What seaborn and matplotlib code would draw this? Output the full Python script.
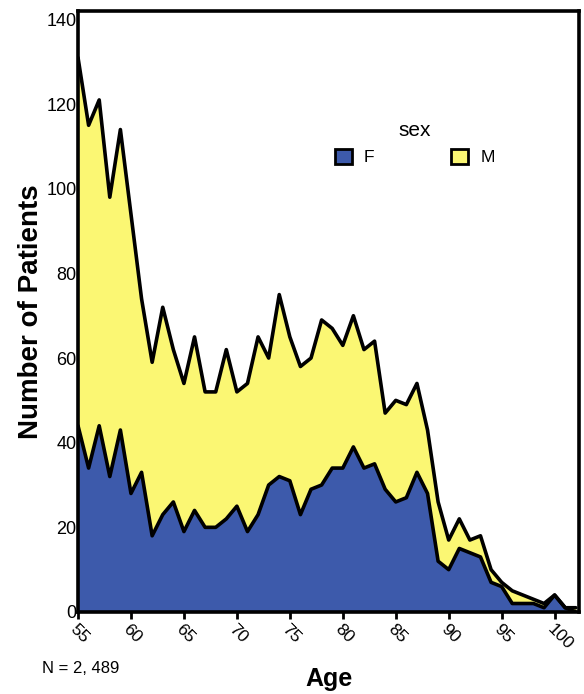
import numpy as np
import pandas as pd
import matplotlib
matplotlib.use('Agg')
import matplotlib.pyplot as plt
import seaborn as sns
from matplotlib.patches import Patch

# Datos
ages = list(range(55, 103))
female = [44, 34, 44, 32, 43, 28, 33, 18, 23, 26,
          19, 24, 20, 20, 22, 25, 19, 23, 30, 32,
          31, 23, 29, 30, 34, 34, 39, 34, 35, 29,
          26, 27, 33, 28, 12, 10, 15, 14, 13, 7,
          6, 2, 2, 2, 1, 4, 1, 0]
total = [131, 115, 121, 98, 114, 94, 74, 59, 72, 62,
         54, 65, 52, 52, 62, 52, 54, 65, 60, 75,
         65, 58, 60, 69, 67, 63, 70, 62, 64, 47,
         50, 49, 54, 43, 26, 17, 22, 17, 18, 10,
         7, 5, 4, 3, 2, 4, 1, 1]
male = [t - f for t, f in zip(total, female)]
sexes = ['F', 'M']
colors = {'F': '#3d5aab', 'M': '#fbf773'}

data = pd.DataFrame({'age': ages, 'F': female, 'M': male})
data['top_F'] = data['F']
data['top_M'] = data['F'] + data['M']

sns.set_style('white')
plt.rcParams['font.family'] = ['Liberation Sans', 'DejaVu Sans']
plt.rcParams['text.color'] = 'black'
plt.rcParams['axes.labelcolor'] = 'black'
plt.rcParams['xtick.color'] = 'black'
plt.rcParams['ytick.color'] = 'black'

fig = plt.figure(figsize=(5.84, 6.94), dpi=100)
ax = fig.add_axes([0.1336, 0.1182, 0.8578, 0.8659])

ax.fill_between(data['age'], 0, data['top_F'], color=colors['F'], linewidth=0)
ax.fill_between(data['age'], data['top_F'], data['top_M'], color=colors['M'], linewidth=0)
sns.lineplot(x='age', y='top_F', data=data, color='black', linewidth=2.6, ax=ax)
sns.lineplot(x='age', y='top_M', data=data, color='black', linewidth=2.6, ax=ax)

ax.set_xlim(55, 102.3)
ax.set_ylim(0, 142)
ax.set_yticks(range(0, 141, 20))
ax.set_xticks(range(55, 101, 5))
ax.set_xticklabels([str(a) for a in range(55, 101, 5)], rotation=-45,
                   ha='left', va='top', rotation_mode='anchor', fontsize=12.5)
ax.tick_params(axis='x', direction='out', length=5, width=2, pad=2, bottom=True)
ax.tick_params(axis='y', length=0, pad=1, labelsize=13)

for sp in ax.spines.values():
    sp.set_linewidth(2.6)
    sp.set_color('black')

ax.set_xlabel('Age', fontsize=18, fontweight='bold', labelpad=10)
ax.set_ylabel('Number of Patients', fontsize=20, fontweight='bold', labelpad=2)

handles = [Patch(facecolor=colors[s], edgecolor='black', linewidth=2) for s in sexes]
leg = ax.legend(handles, sexes, title='sex', ncol=2, frameon=False,
                loc='center', bbox_to_anchor=(0.672, 0.78),
                fontsize=12.5, title_fontsize=15, columnspacing=4.4,
                handlelength=1.0, handleheight=1.0, handletextpad=0.7)

fig.text(0.072, 0.030, 'N = 2, 489', fontsize=12)

fig.savefig('out.png', dpi=100)
